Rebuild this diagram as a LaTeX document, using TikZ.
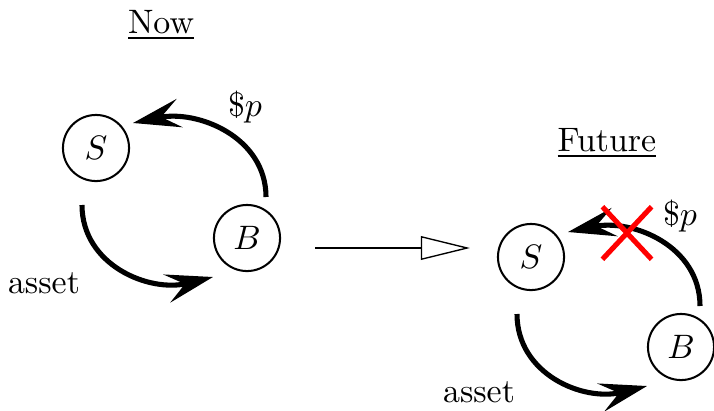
\documentclass[tikz,border=0pt]{standalone}
\usepackage{amsmath}
\usepackage{tikz}
\usetikzlibrary{arrows.meta,calc,shapes.misc}
\tikzset{
  agent/.style   = {circle, draw, semithick, minimum size=19.5pt, inner sep=0pt},
  trade/.style   = {-{Stealth[length=14pt,width=8.5pt,inset=5.5pt]}, line width=1.5pt},
  change/.style  = {-{Triangle[open,length=14.5pt,width=7pt]}, thin},
  heading/.style = {anchor=base},
  veto/.style    = {cross out, draw=red, line width=1.5pt, inner sep=0pt,
                    minimum width=13pt, minimum height=14pt},
}

\begin{document}
\begin{tikzpicture}[x=0.295pt, y=0.295pt]
\useasboundingbox (0,0) rectangle (714,410);
% now: seller and buyer swap asset for money
\node[heading] (now) at (161,377) {\underline{Now}};
\node[agent] (S) at (96,262) {$S$};
\node[agent] (B) at (247,172) {$B$};
\draw[trade] ($(B)+(19,41)$) .. controls +(90:60) and +(12:66) .. ($(S)+(37,25)$);
\draw[trade] ($(S)+(-14,-57)$) .. controls +(270:60) and +(194:66) .. ($(B)+(-34,-39)$);
\node[anchor=base] (pay) at (245,294) {\$$p$};
\node[anchor=base] (asset) at (44,117) {asset};

% passage of time
\coordinate (from) at (315,162);
\coordinate (to) at (470,162);
\draw[change] (from) -- (to);

% future: the payment is blocked
\node[heading] (future) at (607,259) {\underline{Future}};
\node[agent] (S2) at (531,153) {$S$};
\node[agent] (B2) at (681,63) {$B$};
\draw[trade] ($(B2)+(19,41)$) .. controls +(90:60) and +(12:66) .. ($(S2)+(37,25)$);
\draw[trade] ($(S2)+(-14,-57)$) .. controls +(270:60) and +(194:66) .. ($(B2)+(-34,-39)$);
\node[anchor=base] (pay2) at (680,185) {\$$p$};
\node[anchor=base] (asset2) at (479,8) {asset};
\node[veto] (block) at (627,177) {};
\end{tikzpicture}
\end{document}
